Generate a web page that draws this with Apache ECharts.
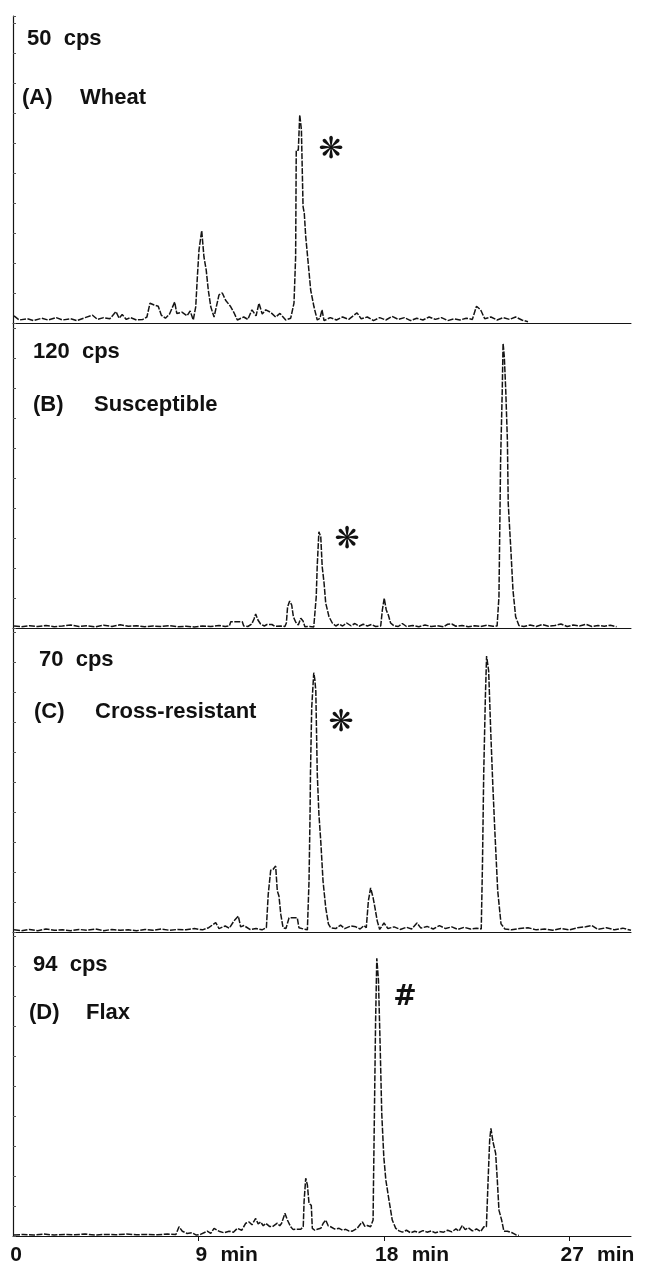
<!DOCTYPE html>
<html>
<head>
<meta charset="utf-8">
<script src="https://cdn.jsdelivr.net/npm/echarts@6/dist/echarts.min.js"></script>
<style>
  html, body { margin: 0; padding: 0; background: #fff; }
  #chart { width: 645px; height: 1271px; }
</style>
</head>
<body>
<div id="chart"></div>
<script>
  // retention time (min) and counts (cps)
  const timeA = [0.05, 0.3, 0.7, 1.0, 1.4, 1.7, 2.1, 2.4, 2.8, 3.1, 3.5, 3.86, 4.1, 4.4, 4.7, 5.0, 5.15, 5.3, 5.5, 5.7, 6.0, 6.3, 6.5, 6.65, 6.85, 7.05, 7.2, 7.4, 7.6, 7.85, 7.95, 8.2, 8.45, 8.6, 8.75,
    8.83, 8.87, 8.95, 9.03, 9.16, 9.27, 9.38, 9.48, 9.6, 9.76,
    9.87, 10.0, 10.16, 10.32, 10.57, 10.73, 10.89,
    11.2, 11.4, 11.6, 11.8, 11.94, 12.1, 12.27, 12.5, 12.75, 12.96, 13.24, 13.48,
    13.64, 13.72, 13.75, 13.85, 13.92, 14.0, 14.08, 14.14, 14.21, 14.33, 14.45, 14.61, 14.77,
    14.9, 15.0, 15.1, 15.4, 15.7, 16.0, 16.3, 16.7, 16.9, 17.2, 17.5, 17.8, 18.1, 18.4, 18.7, 19.0, 19.3, 19.6, 19.9, 20.2, 20.5, 20.8, 21.1, 21.4, 21.7, 22.0, 22.3, 22.5, 22.7, 22.9, 23.2, 23.5, 23.8, 24.1, 24.4, 24.7, 25.0]
  const cpsA = [1.2, 0.5, 0.7, 0.4, 0.8, 0.5, 0.9, 0.5, 0.7, 0.4, 0.9, 1.3, 0.6, 0.9, 0.7, 1.9, 0.8, 1.4, 0.6, 0.9, 0.5, 0.6, 1.0, 3.3, 3.0, 2.8, 1.3, 0.8, 1.5, 3.5, 1.6, 1.8, 1.2, 2.0, 0.5,
    0.5, 2.7, 7.7, 12.2, 15.4, 11.0, 8.8, 5.5, 2.7, 1.0,
    2.7, 4.7, 5.0, 3.8, 2.7, 1.7, 0.5,
    1.0, 0.6, 2.2, 1.2, 3.3, 1.5, 2.2, 1.8, 1.0, 1.6, 0.5, 0.8,
    3.3, 11.0, 28.8, 28.8, 34.7, 32.2, 19.4, 18.3, 14.4, 10.0, 5.5, 2.7, 0.5,
    0.8, 2.2, 0.4, 0.9, 0.5, 1.0, 0.6, 1.7, 0.7, 1.0, 0.4, 0.9, 0.5, 1.1, 0.6, 0.9, 0.4, 0.8, 0.5, 1.0, 0.6, 0.9, 0.4, 0.7, 0.5, 0.8, 0.6, 2.8, 2.2, 0.7, 1.0, 0.5, 0.9, 0.6, 1.0, 0.5, 0.2]

  const timeB = [0.05, 0.4, 0.8, 1.2, 1.6, 2.0, 2.4, 2.8, 3.2, 3.6, 4.0, 4.4, 4.8, 5.2, 5.6, 6.0, 6.4, 6.8, 7.2, 7.6, 8.0, 8.4, 8.8, 9.2, 9.6, 10.0, 10.3,
    10.5, 10.57, 11.13, 11.2,
    11.4, 11.59, 11.7, 11.78, 11.89, 12.02, 12.2, 12.33, 12.57, 12.7, 13.0, 13.2,
    13.27, 13.33, 13.43, 13.53, 13.61, 13.72, 13.85, 13.97, 14.08, 14.17, 14.4, 14.6,
    14.66, 14.72, 14.77, 14.85, 14.94, 15.01, 15.1, 15.18, 15.34, 15.5, 15.67,
    15.83, 16.0, 16.2, 16.4, 16.6, 16.8, 17.0, 17.2, 17.4, 17.6,
    17.85, 17.93, 18.02, 18.12, 18.22, 18.33, 18.5, 18.7, 18.9, 19.1,
    19.4, 19.7, 20.0, 20.3, 20.6, 20.9, 21.1, 21.3, 21.5, 21.8, 22.1, 22.4, 22.7, 23.0, 23.3, 23.5,
    23.56, 23.59, 23.67, 23.75, 23.79, 23.85, 23.92, 24.0, 24.04, 24.16, 24.27, 24.4, 24.56,
    24.8, 25.1, 25.4, 25.7, 26.0, 26.3, 26.6, 26.9, 27.2, 27.5, 27.8, 28.1, 28.4, 28.7, 29.0, 29.3]
  const cpsB = [0.8, 0.5, 0.9, 0.6, 1.0, 0.5, 0.8, 1.2, 0.6, 0.9, 0.5, 1.1, 0.6, 1.3, 0.7, 0.9, 0.5, 0.8, 0.6, 0.9, 0.5, 0.7, 0.4, 0.8, 0.6, 1.0, 0.6,
    0.8, 2.5, 2.5, 0.8,
    0.6, 1.6, 3.6, 5.6, 3.2, 1.6, 0.8, 1.4, 1.4, 0.7, 0.8, 0.6,
    2.0, 8.5, 10.8, 9.2, 4.5, 2.4, 1.2, 3.9, 2.8, 0.5, 0.6, 0.4,
    0.8, 12.5, 25.2, 38.5, 36.5, 24.5, 18.0, 10.0, 4.5, 2.0, 0.8,
    1.6, 0.8, 2.0, 0.9, 1.8, 0.7, 1.5, 0.8, 1.4, 0.6,
    0.8, 7.2, 11.9, 7.2, 5.2, 2.0, 0.8, 0.6, 1.8, 0.6,
    1.0, 0.5, 1.2, 0.6, 0.9, 0.5, 1.5, 1.6, 0.7, 1.0, 0.5, 0.9, 0.6, 1.1, 0.7, 0.8,
    1.0, 12.5, 67, 95, 113.9, 108.5, 95, 75, 49.9, 32.5, 15.2, 4.5, 1.0,
    0.6, 1.2, 0.6, 1.4, 0.7, 1.0, 1.6, 0.6, 1.2, 0.8, 1.5, 0.6, 1.0, 0.7, 1.1, 0.5]

  const timeC = [0.05, 0.4, 0.8, 1.2, 1.6, 2.0, 2.4, 2.8, 3.2, 3.6, 4.0, 4.4, 4.8, 5.2, 5.6, 6.0, 6.4, 6.8, 7.2, 7.6, 8.0, 8.4, 8.8, 9.2, 9.5, 9.84, 10.0, 10.3, 10.5, 10.73, 10.94, 11.05, 11.21, 11.5, 11.8, 12.09,
    12.3, 12.39, 12.51, 12.62, 12.75, 12.83, 12.91, 13.0, 13.11, 13.25,
    13.4, 13.59, 13.8, 13.88, 14.1,
    14.29, 14.37, 14.42, 14.44, 14.5, 14.6, 14.65, 14.7, 14.77, 14.85, 14.94, 15.05, 15.18, 15.31, 15.42,
    15.67, 15.9, 16.1, 16.4, 16.64, 16.85, 17.04,
    17.15, 17.25, 17.36, 17.48, 17.57, 17.68, 17.8,
    18.01, 18.2, 18.5, 18.8, 19.1, 19.35, 19.61, 19.8, 20.1, 20.4, 20.7, 21.0, 21.3, 21.6, 21.9, 22.2, 22.5,
    22.73, 22.79, 22.85, 22.93, 22.99, 23.09, 23.19, 23.29, 23.39, 23.53, 23.69, 23.88,
    24.2, 24.6, 25.0, 25.4, 25.8, 26.2, 26.6, 27.0, 27.4, 27.8, 28.1, 28.4, 28.8, 29.2, 29.6, 30.0]
  const cpsC = [0.5, 0.3, 0.6, 0.3, 0.7, 0.4, 0.5, 0.3, 0.6, 0.4, 0.7, 0.3, 0.6, 0.4, 0.5, 0.3, 0.6, 0.4, 0.7, 0.4, 0.6, 0.5, 0.8, 0.5, 1.0, 2.2, 0.8, 1.4, 0.9, 2.6, 3.7, 1.2, 1.5, 0.6, 0.8, 0.5,
    1.0, 8.8, 14.4, 14.6, 15.4, 9.6, 8.4, 4.1, 1.0, 0.8,
    3.3, 3.3, 3.3, 1.0, 0.7,
    0.5, 11.9, 27.5, 36.9, 52.3, 60.5, 59.0, 56.2, 37.0, 27.5, 21.2, 11.9, 5.7, 1.9, 1.0,
    0.8, 1.6, 0.8, 1.4, 1.2, 0.7, 1.5,
    1.0, 7.2, 10.3, 8.0, 5.7, 2.6, 0.6,
    2.1, 0.8, 1.2, 0.6, 1.1, 0.7, 2.1, 0.9, 1.3, 0.7, 1.5, 0.8, 1.2, 0.6, 1.1, 0.7, 0.9,
    0.7, 15.8, 36.9, 54.7, 64.4, 60.9, 46.9, 34.5, 23.6, 9.6, 1.9, 0.7,
    0.5, 0.8, 1.0, 0.5, 0.7, 0.4, 0.8, 0.5, 1.0, 1.2, 1.5, 0.6, 1.0, 0.5, 0.9, 0.4]

  const timeD = [0.05, 0.5, 1.0, 1.5, 2.0, 2.5, 3.0, 3.5, 4.0, 4.5, 5.0, 5.5, 6.0, 6.5, 7.0, 7.5, 7.91, 8.06, 8.22, 8.45, 8.7, 8.9, 9.1, 9.43, 9.6, 9.76, 10.0, 10.25, 10.49, 10.7, 10.89, 11.1, 11.3, 11.46, 11.6, 11.78, 11.9, 12.02, 12.15, 12.27, 12.45, 12.59, 12.83, 12.95, 13.04, 13.2, 13.32, 13.48, 13.6, 13.72, 13.97,
    14.09, 14.13, 14.21, 14.29, 14.37, 14.48, 14.53, 14.65, 14.77, 14.94, 15.06, 15.18, 15.3, 15.42, 15.6, 15.83, 16.0, 16.15, 16.3, 16.47, 16.6, 16.71, 16.85, 16.96, 17.08, 17.2, 17.36,
    17.48, 17.5, 17.54, 17.6, 17.66, 17.74, 17.82, 17.9, 18.0, 18.1, 18.25, 18.41, 18.58, 18.74,
    18.9, 19.1, 19.3, 19.5, 19.7, 19.9, 20.1, 20.3, 20.5, 20.7, 20.9, 21.1, 21.3, 21.5, 21.65, 21.81, 21.95, 22.1, 22.3, 22.5, 22.7, 22.86,
    22.98, 23.07, 23.14, 23.2, 23.3, 23.43, 23.51, 23.59, 23.72, 23.83, 24.0, 24.24, 24.4, 24.56]
  const cpsD = [0.3, 0.5, 0.3, 0.6, 0.3, 0.5, 0.4, 0.6, 0.3, 0.5, 0.4, 0.6, 0.4, 0.5, 0.4, 0.6, 0.5, 2.9, 1.5, 0.8, 1.0, 0.3, 0.5, 1.5, 0.8, 2.4, 1.5, 1.0, 1.5, 1.2, 2.4, 1.8, 4.0, 4.4, 3.5, 5.5, 3.8, 4.4, 3.2, 4.0, 3.0, 2.9, 4.0, 3.2, 4.0, 7.1, 5.0, 2.9, 2.0, 2.1, 2.1,
    2.9, 10.8, 18.1, 16.0, 10.2, 9.6, 2.4, 1.8, 2.1, 2.4, 4.0, 5.0, 3.2, 2.9, 2.2, 2.4, 1.8, 2.1, 1.6, 1.5, 2.0, 2.4, 3.6, 4.4, 3.0, 3.3, 2.9,
    5.0, 16.5, 36.3, 66.6, 87.0, 80.2, 60.4, 38.5, 24.8, 17.5, 11.3, 5.0, 2.4, 1.6,
    1.2, 1.8, 1.0, 1.5, 1.1, 1.7, 1.2, 1.6, 1.0, 1.4, 1.2, 1.8, 1.3, 2.2, 1.5, 3.3, 2.0, 2.6, 1.6, 2.2, 1.4, 2.9,
    2.9, 18.6, 30.1, 33.7, 29.5, 25.9, 17.5, 8.1, 5.0, 1.5, 1.5, 1.0, 0.4, 0.2]

  // full scale of each panel (cps) and its captions
  const fullScale = [50, 120, 70, 94]
  const scaleLabels = ['50  cps', '120  cps', '70  cps', '94  cps']
  const panelTags = ['(A)', '(B)', '(C)', '(D)']
  const panelNames = ['Wheat', 'Susceptible', 'Cross-resistant', 'Flax']
  const peakMarks = ['❋', '❋', '❋', '#']
  const timeTicks = [0, 9, 18, 27]

  const times = [timeA, timeB, timeC, timeD]
  const counts = [cpsA, cpsB, cpsC, cpsD]

  const FAMILY = '"Liberation Sans", Arial, sans-serif'
  const FONT = 'bold 22px ' + FAMILY
  const INK = '#141414'
  // panel layout
  const panelTop = [16, 323, 628, 932]
  const panelH = [307, 305, 304, 304]
  const tagPos = [[22, 98], [33, 405], [34, 712], [29, 1013]]
  const namePos = [[80, 98], [94, 405], [95, 712], [86, 1013]]
  const scalePos = [[27, 39], [33, 352], [39, 660], [33, 965]]
  const markPos = [[331, 150], [347, 540], [341, 723], [405, 998]]

  const chart = echarts.init(document.getElementById('chart'))

  const grid = [], xAxis = [], yAxis = [], series = [], graphic = []
  for (let i = 0; i < 4; i++) {
    const last = i === 3
    grid.push({ left: 13, right: 14, top: panelTop[i], height: panelH[i], outerBoundsMode: 'none', containLabel: false })
    xAxis.push({
      type: 'value', gridIndex: i, min: 0, max: 30,
      axisLine: { show: true, lineStyle: { color: INK, width: 1 } },
      axisTick: last ? { show: true, customValues: [9, 18, 27], length: 5, lineStyle: { color: INK } } : { show: false },
      axisLabel: last ? {
        show: true, customValues: timeTicks, margin: 9,
        formatter: (v) => v === 0 ? '{p|}{n|0}{u|}' : `{p|}{n|${v}}{u|  min}`,
        rich: {
          p: { width: 58 },
          n: { fontSize: 21, fontWeight: 'bold', fontFamily: FAMILY, color: '#111' },
          u: { fontSize: 21, fontWeight: 'bold', fontFamily: FAMILY, color: '#111', width: 52, align: 'left' },
        },
      } : { show: false },
      splitLine: { show: false },
    })
    yAxis.push({
      type: 'value', gridIndex: i, min: 0,
      max: fullScale[i] * panelH[i] / 300,
      interval: fullScale[i] / 10,
      axisLine: { show: true, lineStyle: { color: INK, width: 1.2 } },
      axisTick: { show: true, inside: true, length: 3, lineStyle: { color: '#555' } },
      axisLabel: { show: false },
      splitLine: { show: false },
    })
    series.push({
      type: 'line', xAxisIndex: i, yAxisIndex: i,
      data: times[i].map((t, k) => [t, counts[i][k]]),
      showSymbol: false, silent: true,
      lineStyle: { color: INK, width: 1.5, type: [6, 1.5] },
    })
    const txt = (s, x, y, extra) => ({
      type: 'text', x, y,
      style: Object.assign({ text: s, font: FONT, fill: '#111', verticalAlign: 'middle' }, extra || {}),
    })
    graphic.push(txt(scaleLabels[i], scalePos[i][0], scalePos[i][1]))
    graphic.push(txt(panelTags[i], tagPos[i][0], tagPos[i][1]))
    graphic.push(txt(panelNames[i], namePos[i][0], namePos[i][1]))
    graphic.push(txt(peakMarks[i], markPos[i][0], markPos[i][1],
      { align: 'center', font: i === 3 ? 'bold 28px "DejaVu Sans", sans-serif' : 'bold 30px "DejaVu Sans", sans-serif' }))
  }

  chart.setOption({
    animation: false,
    backgroundColor: '#fff',
    grid, xAxis, yAxis, series, graphic,
  })
</script>
</body>
</html>
